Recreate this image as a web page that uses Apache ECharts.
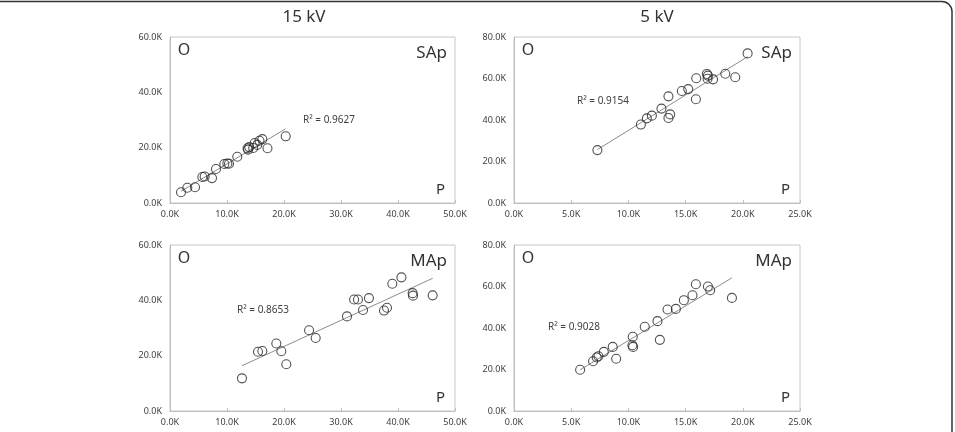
<!DOCTYPE html>
<html>
<head>
<meta charset="utf-8">
<script src="https://cdn.jsdelivr.net/npm/echarts@6/dist/echarts.min.js"></script>
<style>
  html, body { margin: 0; padding: 0; background: #fff; }
  #chart { width: 955px; height: 432px; }
</style>
</head>
<body>
<div id="chart"></div>
<script>
// values in thousands (K)
const sap15X = [1.93, 3.04, 4.39, 5.67, 6.08, 7.37, 8.07, 9.53, 10.06, 10.35, 11.8, 13.6, 13.7, 13.9, 14.6, 14.85, 15.3, 15.7, 16.2, 17.1, 20.3];
const sap15Y = [3.9, 5.5, 5.7, 9.4, 9.6, 9.0, 12.3, 14.1, 14.3, 14.2, 16.7, 19.8, 19.3, 20.2, 19.9, 21.7, 21.0, 22.5, 23.1, 19.8, 24.1];

const sap5X = [7.29, 11.09, 11.61, 12.05, 12.89, 13.5, 13.5, 13.65, 14.67, 15.23, 15.9, 15.93, 16.86, 16.95, 16.92, 17.4, 18.47, 19.34, 20.42];
const sap5Y = [25.5, 37.8, 40.8, 42.1, 45.5, 51.4, 41.0, 42.7, 54.0, 54.9, 50.0, 60.1, 62.2, 61.4, 59.9, 59.6, 62.3, 60.6, 72.1];

const map15X = [12.63, 15.44, 16.2, 18.65, 19.53, 20.4, 24.4, 25.56, 31.05, 32.3, 32.98, 33.86, 34.9, 37.54, 38.07, 39.0, 40.6, 42.57, 42.63, 46.08];
const map15Y = [11.8, 21.4, 21.7, 24.4, 21.6, 16.9, 29.2, 26.4, 34.2, 40.3, 40.3, 36.5, 40.8, 36.3, 37.3, 46.0, 48.3, 42.6, 41.7, 41.8];

const map5X = [5.78, 6.91, 7.23, 7.38, 7.85, 8.63, 8.93, 10.38, 10.35, 10.41, 11.43, 12.54, 12.75, 13.42, 14.15, 14.85, 15.6, 15.9, 16.95, 17.15, 19.05];
const map5Y = [19.9, 24.0, 25.8, 26.4, 28.5, 30.9, 25.2, 35.8, 31.7, 30.9, 40.6, 43.3, 34.3, 48.9, 49.2, 53.4, 55.8, 61.1, 60.0, 58.2, 54.5];

const columnTitles = ['15 kV', '5 kV'];
const panelNames = ['SAp', 'SAp', 'MAp', 'MAp'];
const r2Labels = ['R² = 0.9627', 'R² = 0.9154', 'R² = 0.8653', 'R² = 0.9028'];
const xMax = [50, 25, 50, 25];
const xStep = [10, 5, 10, 5];
const yMax = [60, 80, 60, 80];
const yStep = [20, 20, 20, 20];

const panels = [[sap15X, sap15Y], [sap5X, sap5Y], [map15X, map15Y], [map5X, map5Y]];

// layout
const grids = [
  { left: 170, top: 37, width: 285, height: 166 },
  { left: 514, top: 37, width: 286, height: 166 },
  { left: 170, top: 245, width: 285, height: 166 },
  { left: 514, top: 245, width: 286, height: 166 }
];
const r2Pos = [[303, 120], [577, 101], [237, 310], [548, 327]];

const FONT = '"Noto Sans", "Open Sans", sans-serif';

function fit(xs, ys) {
  const n = xs.length;
  const mx = xs.reduce((a, b) => a + b, 0) / n;
  const my = ys.reduce((a, b) => a + b, 0) / n;
  let sxy = 0, sxx = 0;
  for (let i = 0; i < n; i++) {
    sxy += (xs[i] - mx) * (ys[i] - my);
    sxx += (xs[i] - mx) * (xs[i] - mx);
  }
  const b = sxy / sxx, a = my - b * mx;
  const x0 = Math.min(...xs), x1 = Math.max(...xs);
  return [[x0, a + b * x0], [x1, a + b * x1]];
}

const series = [];
panels.forEach(([xs, ys], i) => {
  series.push({
    type: 'line',
    xAxisIndex: i, yAxisIndex: i,
    data: fit(xs, ys),
    symbol: 'none',
    lineStyle: { color: '#8c8c8c', width: 1 },
    silent: true,
    z: 1
  });
  series.push({
    type: 'scatter',
    xAxisIndex: i, yAxisIndex: i,
    data: xs.map((x, k) => [x, ys[k]]),
    symbol: 'circle',
    symbolSize: 9,
    itemStyle: { color: 'rgba(255,255,255,0)', borderColor: '#262626', borderWidth: 1.1 },
    z: 2
  });
});

const fmt = v => v.toFixed(1) + 'K';

const graphic = [
  // outer frame
  { type: 'rect', shape: { x: -20, y: 1.5, width: 972, height: 480, r: 10 },
    style: { fill: 'none', stroke: '#333', lineWidth: 1.5 }, silent: true },
  { type: 'text', x: 304, y: 17, style: { text: columnTitles[0], font: '17px ' + FONT, fill: '#333', textAlign: 'center', textVerticalAlign: 'middle' } },
  { type: 'text', x: 657, y: 17, style: { text: columnTitles[1], font: '17px ' + FONT, fill: '#333', textAlign: 'center', textVerticalAlign: 'middle' } }
];
grids.forEach((g, i) => {
  const right = g.left + g.width, bottom = g.top + g.height;
  graphic.push({ type: 'text', x: g.left + 14, y: g.top + 13, style: { text: 'O', font: '16px ' + FONT, fill: '#333', textAlign: 'center', textVerticalAlign: 'middle' } });
  graphic.push({ type: 'text', x: right - 8, y: g.top + 16, style: { text: panelNames[i], font: '17px ' + FONT, fill: '#333', textAlign: 'right', textVerticalAlign: 'middle' } });
  graphic.push({ type: 'text', x: right - 10, y: bottom - 13, style: { text: 'P', font: '15px ' + FONT, fill: '#333', textAlign: 'right', textVerticalAlign: 'middle' } });
  graphic.push({ type: 'text', x: r2Pos[i][0], y: r2Pos[i][1], style: { text: r2Labels[i], font: '10px ' + FONT, fill: '#404040', textAlign: 'left', textVerticalAlign: 'middle' } });
});

const option = {
  animation: false,
  backgroundColor: '#fff',
  textStyle: { fontFamily: FONT },
  grid: grids.map(g => ({ ...g, show: true, borderColor: '#c8c8c8', borderWidth: 1, backgroundColor: 'transparent' })),
  xAxis: grids.map((g, i) => ({
    type: 'value', gridIndex: i, min: 0, max: xMax[i], interval: xStep[i],
    axisLine: { show: true, lineStyle: { color: '#bfbfbf' } },
    axisTick: { show: true, inside: true, length: 3, lineStyle: { color: '#bfbfbf' } },
    splitLine: { show: false },
    axisLabel: { formatter: fmt, fontSize: 9, color: '#404040', margin: 7, showMaxLabel: true }
  })),
  yAxis: grids.map((g, i) => ({
    type: 'value', gridIndex: i, min: 0, max: yMax[i], interval: yStep[i],
    axisLine: { show: true, lineStyle: { color: '#bfbfbf' } },
    axisTick: { show: false },
    splitLine: { show: false },
    axisLabel: { formatter: fmt, fontSize: 9, color: '#404040', margin: 8 }
  })),
  series,
  graphic
};

const chart = echarts.init(document.getElementById('chart'), null, { renderer: 'canvas' });
chart.setOption(option);
</script>
</body>
</html>
